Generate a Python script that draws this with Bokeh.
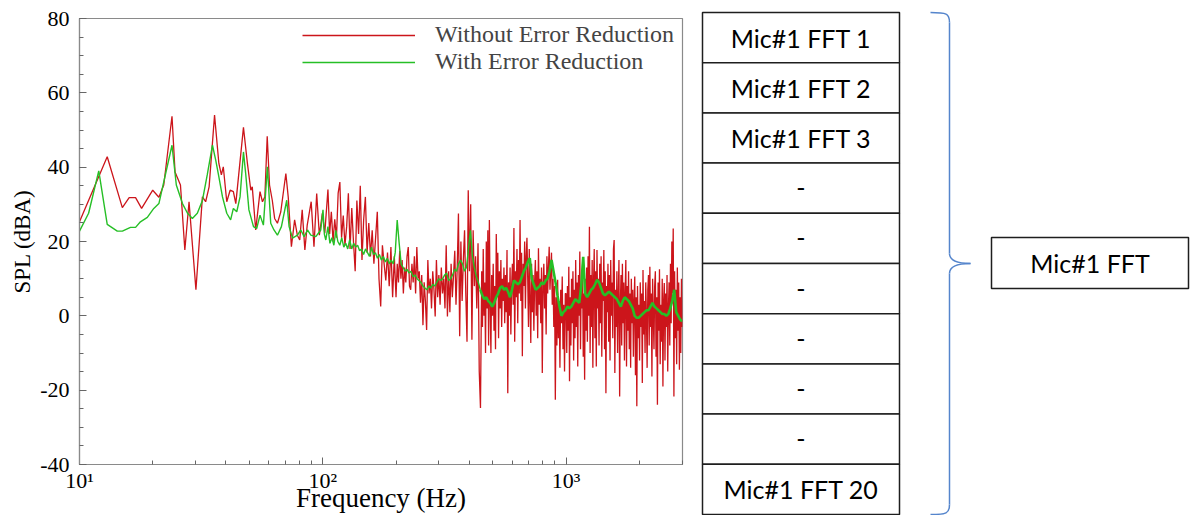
import numpy as np
from bokeh.plotting import figure
from bokeh.models import Range1d, FixedTicker, Legend, LegendItem
from bokeh.core.properties import value
from bokeh.layouts import row
from bokeh.embed import file_html
from bokeh.resources import INLINE

# ---------------- spectrum data (SPL in dBA) ----------------
# low-frequency bins, listed individually
red_lo_f = [10.0, 13.0, 15.0, 16.0, 17.0, 18.0, 20.0, 21.2, 22.2, 24.0,
            24.7, 26.0, 27.1, 28.2, 30.1, 32.0, 33.0, 34.1, 35.9, 37.4,
            38.3, 39.0, 40.3, 41.6, 42.9, 43.9, 47.2, 49.0, 50.6, 51.3,
            53.0, 55.2, 56.5, 57.8, 59.1, 60.4, 62.0, 63.4, 65.1, 67.2,
            70.5, 72.1, 74.3, 76.6, 78.6, 80.4, 82.3, 84.4, 86.3, 89.6,
            92.0, 94.4, 96.8, 99.6, 101.9]
red_lo_db = [25.3, 42.8, 29.1, 31.8, 31.8, 28.9, 33.8, 31.9, 35.2, 53.7,
             38.7, 35.2, 17.7, 30.7, 7.0, 32.0, 30.7, 34.7, 54.0, 41.0,
             37.9, 40.1, 30.7, 33.8, 33.4, 30.2, 50.7, 41.0, 33.8, 34.7,
             23.1, 33.4, 30.7, 32.0, 48.3, 35.2, 31.1, 26.2, 24.9, 28.0,
             38.3, 32.0, 18.6, 25.8, 21.7, 20.4, 28.5, 17.7, 24.4, 30.7,
             18.6, 32.9, 21.7, 27.6, 22.2]

# higher bands: values on log-spaced frequency grids
red_105_200 = [34, 22, 28, 20, 26, 21, 33, 36, 21, 27,
               19, 24, 33, 18, 29, 20, 12, 31, 22, 35,
               15, 26, 32, 17, 25, 16, 23, 14, 21, 28,
               10, 2.5, 19, 14, 9.5, 17, 8, 18.5, 5, 16]
red_200_450 = [5, 14, 9, 17.5, 10, 15, 6, 13, 9, 16,
               18.5, 8, 7, 14, 9, 16, 6, 18.5, 10, 12,
               3.5, 11, -2.5, 9, 4, -3.8, 15, 6, 10, 2,
               12, 7, -0.2, 15, 5, 11, 3, 13, 6, 10,
               2, 19, -0.2, 12, 1, 14, 5, 11, 17.5, 3,
               13, 27.5, -5.5, 20, 4, 15, 23, 6, -7, 33.8,
               12, 30, -6.4, 23, 8, 16, 2, 19.5, -15, -24.8]
red_450_1000 = [12, -3, 18, 0, 9, -10, 20, 2, 23, -8,
                25.8, 3, -10, 11, 0, 14, -4, 8, -9, 22,
                5, 17, -6, 12, 2, 15, -3, 10, 4, 13,
                -2, 11, 1, 17.7, -20.8, 9, 0, 13, -5, 8,
                14, 3, 23.6, -7, 12, 5, 18, -2, 15, 6,
                25.8, 4, 17, -10.9, 14, 8, 20, 2, 16, 21,
                10, -3, 18, 4, -7.3, 14, 1, 11, -4, 9,
                15, 0, 12, -6, 18.2, 3, 10, -2, 13, -15.4,
                8, 14, 2, 11, -5, 16, 6, 13, 18.6, 7,
                12, 17, 3, 10, -3, 8, -22.6, 5, -8, 9.7,
                -6, 4, -14, 7, -2, 10.6, -9, 3, -15, 6]
red_1000_3000 = [6, -10, 8, -4, 13.2, -17.6, 5, -8, 10, -2,
                 12, -12, 7, -6, 15, -3, 9, -13.6, 11, 0,
                 17.3, -9, 8, 2, 14, -11, 6, -17.2, 10, -4,
                 13, -7, 16, 0, 24, -10, 11, -3, 15, -14,
                 9, 18, -6, 12, -13.6, 17.7, 2, 10, -8, 14,
                 -2, 16, -11, 9, 4, 17.7, -9, 12, -20.8, 8,
                 1, 14, -7, 11, -12, 15, 0, 9, -6, 18,
                 20.4, -15.4, 7, -3, 12, -10, 5, 15, -21.7, 3,
                 11, -8, 14, -2, 9, -12, 6, 15, -13.6, 8,
                 -4, 12, -9, 6, -14, 10, -2, 7, -11, 4,
                 10.6, -16, 5, -24.3, 8, -6, 3, -12, 9, -3,
                 6, -18.1, 12.3, -5, 4, -10, 9, 0, -14, 7,
                 11, -8, 13.2, -3, 6, -16.3, 10, 0, -9, 8,
                 12, -11, 5, -23.9, 9, -4, 12.5, -13, 3, -7,
                 10, -19, 4, 8.8, -12, 6, -3, 11, -15, 2,
                 9, -8, 14, -2, 20, 6, 23.5, -21.7, 12, -6,
                 7, -13, 13, -4, 9, -14.5, 5, -10, 10, -3]

green_lo_f = [10.0, 10.9, 12.0, 13.0, 14.3, 15.0, 16.2, 17.0, 17.8, 19.0,
              20.2, 21.2, 22.6, 24.0, 25.0, 26.5, 27.8, 29.1, 30.5, 32.0,
              33.5, 35.2, 36.3, 37.4, 38.7, 40.3, 41.8, 42.9, 44.3, 45.7,
              47.2, 48.2, 49.7, 51.9, 53.5, 55.2, 57.0, 59.2, 61.1, 63.0,
              65.1, 67.6, 71.1, 72.7, 75.1, 78.7, 81.2, 83.8, 86.5, 89.3,
              93.6, 98.1, 100.2, 101.5, 102.9]
green_lo_db = [22.8, 27.6, 39.0, 24.6, 22.8, 22.8, 23.8, 23.8, 25.3, 26.5,
               28.9, 30.2, 38.3, 45.9, 35.2, 30.2, 27.6, 26.2, 27.6, 31.0,
               37.9, 45.9, 41.9, 37.4, 32.0, 27.6, 25.8, 28.9, 28.0, 32.0,
               44.1, 38.3, 28.5, 24.0, 23.5, 27.1, 24.4, 40.1, 24.9, 23.1,
               21.7, 24.0, 31.1, 24.0, 20.9, 21.7, 23.1, 21.3, 23.1, 21.7,
               21.3, 23.1, 28.5, 22.0, 20.4]
green_105_3000 = [24, 19.5, 21, 19, 23, 20, 19, 21, 18.5, 19.5,
                  18, 20.5, 18, 19.5, 18.5, 19, 17.5, 18, 16.5, 18,
                  17, 16, 18.5, 16.5, 17, 15.5, 16.5, 15, 16, 14.5,
                  15.5, 14, 15, 14, 17, 25.8, 19.5, 14, 13, 12,
                  12.5, 11.5, 12, 10.5, 11, 10, 9.5, 9, 8, 7.5,
                  7, 8, 7.5, 8.5, 8, 9, 10, 9.5, 10, 11,
                  11.5, 9.5, 10, 11, 12.5, 12, 14, 15, 14, 12,
                  13, 18, 23, 16, 13, 10.5, 9, 7, 5.5, 4.5,
                  5, 4, 3.5, 2.5, 3.5, 5, 6, 7.5, 8, 7,
                  7.5, 6.5, 5, 7, 9.5, 9, 8.5, 9, 10.5, 12,
                  13, 14.5, 15.5, 10, 8.5, 7, 7.5, 8, 9, 8.5,
                  9.5, 10, 12, 15, 12, 9, 5.5, 2.5, 0, 1,
                  1.5, 2.5, 2, 2.5, 3.5, 4.5, 4, 3.5, 8, 15.9,
                  6, 5, 6, 7, 7.5, 8.5, 9.7, 9, 7.5, 6,
                  5.5, 6, 6.5, 6, 5.5, 5, 4.5, 3.5, 2.5, 4,
                  5, 4.5, 4, 3, 2, 0, -0.5, -0.5, 0, 0.5,
                  1, 1.5, 1.5, 2.5, 3.5, 2.5, 2, 1.5, 1, 0.5,
                  0.5, 0, 0.5, 2, 4, 7, 1, 0, -1, -1.5]

y_ticks = [-40, -20, 0, 20, 40, 60, 80]
y_tick_labels = ["-40", "-20", "0", "20", "40", "60", "80"]
x_ticks = [10, 100, 1000]
x_tick_labels = ["10\u00b9", "10\u00b2", "10\u00b3"]

# processing-chain diagram texts
stack_labels = ["Mic#1 FFT 1", "Mic#1 FFT 2", "Mic#1 FFT 3", "-", "-", "-",
                "-", "-", "-", "Mic#1 FFT 20"]
result_label = "Mic#1 FFT"


def band(lo, hi, vals, last=False):
    return np.geomspace(lo, hi, len(vals), endpoint=last)


red_f = np.concatenate([red_lo_f,
                        band(105, 200, red_105_200),
                        band(200, 450, red_200_450),
                        band(450, 1000, red_450_1000),
                        band(1000, 3000, red_1000_3000, last=True)])
red_db = np.concatenate([red_lo_db, red_105_200, red_200_450,
                         red_450_1000, red_1000_3000])
green_f = np.concatenate([green_lo_f, band(105, 3000, green_105_3000, last=True)])
green_db = np.concatenate([green_lo_db, green_105_3000])

SERIF = "Liberation Serif"
AXIS_GREY = "#8a8a8a"
RED = "#cc151b"
GREEN = "#26bf26"

# ---------------- spectrum plot ----------------
p = figure(width=690, height=515, x_axis_type="log",
           x_range=Range1d(10, 3010), y_range=Range1d(-40, 80),
           output_backend="svg", toolbar_location=None,
           min_border_left=79, min_border_right=8,
           min_border_top=18, min_border_bottom=50)
p.frame_align = False
p.grid.visible = False
p.outline_line_color = AXIS_GREY
p.outline_line_width = 1.2

r_red = p.line(red_f, red_db, line_color=RED, line_width=1.3)
# the averaged spectrum: thin below ~400 Hz, a noisier band above
split = np.searchsorted(green_f, 440)
r_green = p.line(green_f[:split + 1], green_db[:split + 1], line_color=GREEN, line_width=1.4)
p.line(green_f[split:], green_db[split:], line_color=GREEN, line_width=2.6)

p.xaxis.ticker = FixedTicker(ticks=x_ticks,
                             minor_ticks=[20, 30, 40, 50, 60, 70, 80, 90,
                                          200, 300, 400, 500, 600, 700, 800, 900,
                                          2000, 3000])
p.xaxis.major_label_overrides = dict(zip(x_ticks, x_tick_labels))
p.yaxis.ticker = FixedTicker(ticks=y_ticks, minor_ticks=list(range(-40, 81, 5)))
p.yaxis.major_label_overrides = dict(zip(y_ticks, y_tick_labels))

for ax in (p.xaxis[0], p.yaxis[0]):
    ax.axis_line_color = AXIS_GREY
    ax.axis_line_width = 1.2
    ax.major_tick_line_color = "#666666"
    ax.minor_tick_line_color = "#666666"
    ax.major_tick_in = 7
    ax.major_tick_out = 0
    ax.minor_tick_in = 4
    ax.minor_tick_out = 0
    ax.major_label_text_font = SERIF
    ax.major_label_text_font_size = "22px"
    ax.major_label_text_color = "black"
    ax.axis_label_text_font = SERIF
    ax.axis_label_text_font_style = "normal"
    ax.axis_label_text_color = "black"

p.xaxis.axis_label = "Frequency (Hz)"
p.xaxis.axis_label_text_font_size = "27px"
p.xaxis.major_label_standoff = 3
p.xaxis.axis_label_standoff = -13
p.yaxis.axis_label = "SPL (dBA)"
p.yaxis.axis_label_text_font_size = "23px"
p.yaxis.major_label_standoff = 10
p.yaxis.axis_label_standoff = 2

legend = Legend(items=[LegendItem(label="Without Error Reduction", renderers=[r_red]),
                       LegendItem(label="With Error Reduction", renderers=[r_green])],
                location=(223, 389), glyph_width=113, glyph_height=20,
                label_height=20, label_standoff=20, spacing=-2, padding=0, margin=0,
                border_line_color=None, background_fill_alpha=0,
                label_text_font=SERIF, label_text_font_size="24px")
p.add_layout(legend)

# ---------------- averaging diagram ----------------
d = figure(width=500, height=515, x_range=Range1d(690, 1190), y_range=Range1d(515, 0),
           output_backend="svg", toolbar_location=None, min_border=0)
d.frame_align = False
d.axis.visible = False
d.grid.visible = False
d.outline_line_color = None

BOX_LINE = "#1e1e1e"
n = len(stack_labels)
top0, row_h = 12.0, 50.2
tops = [top0 + i * row_h for i in range(n)]
bots = [t + row_h for t in tops]
mids = [t + row_h / 2 for t in tops]
d.quad(left=702, right=899, top=tops, bottom=bots, fill_color="white",
       line_color=BOX_LINE, line_width=1.5)
d.text(x=[800.5] * n, y=mids, text=stack_labels, text_align="center",
       text_baseline="middle", text_font=value("Lato"), text_font_size="25px",
       text_color="black")

# curly brace joining the stack to the averaged result
BRACE = "#5585cc"
bx, tip_x, brace_top, brace_bot = 949, 970, top0, bots[-1]
mid_y = (brace_top + brace_bot) / 2
d.bezier(x0=[930, bx, tip_x, bx], y0=[brace_top, mid_y - 10, mid_y, brace_bot - 10],
         x1=[bx, tip_x, bx, 930], y1=[brace_top + 10, mid_y, mid_y + 10, brace_bot],
         cx0=[946, bx, 958, bx], cy0=[brace_top, mid_y - 3, mid_y, brace_bot - 1],
         cx1=[bx, 958, bx, 946], cy1=[brace_top + 1, mid_y, mid_y + 3, brace_bot],
         line_color=BRACE, line_width=1.5)
d.segment(x0=[bx, bx], y0=[brace_top + 10, mid_y + 10], x1=[bx, bx],
          y1=[mid_y - 10, brace_bot - 10], line_color=BRACE, line_width=1.5)

d.quad(left=991, right=1188, top=237, bottom=288, fill_color="white",
       line_color=BOX_LINE, line_width=1.5)
d.text(x=[1089.5], y=[262.5], text=[result_label], text_align="center",
       text_baseline="middle", text_font=value("Lato"), text_font_size="25px",
       text_color="black")

layout = row(p, d)
open("out.html", "w").write(file_html(layout, INLINE))
